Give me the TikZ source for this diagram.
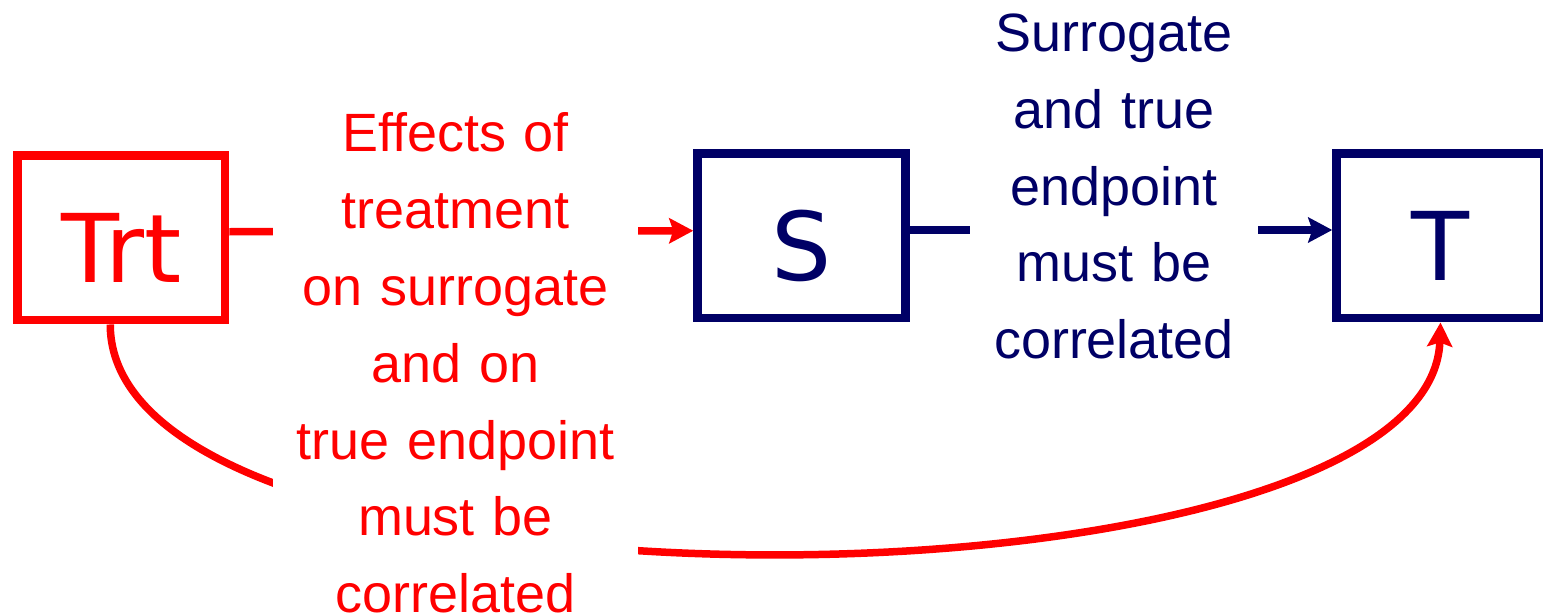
\documentclass[tikz,border=0pt]{standalone}
\usepackage{fontspec}
\setmainfont{Liberation Sans}
\newfontfamily\boxfont{DejaVu Sans}
\usetikzlibrary{arrows.meta}
\definecolor{trtred}{RGB}{255,0,0}
\definecolor{endnavy}{RGB}{0,0,102}

\begin{document}
\begin{tikzpicture}[x=0.02cm,y=-0.02cm,
    boxnode/.style={draw,line width=0.17cm,minimum width=4.16cm,minimum height=3.3cm,
      inner sep=0pt,font=\boxfont\fontsize{54pt}{60pt}\selectfont,
      text height=1.8cm,text depth=0pt},
    linkline/.style={line width=0.15cm},
    headarrow/.style={-{Stealth[length=0.48cm,width=0.5cm,inset=0.08cm]}},
    notenode/.style={fill=white,inner sep=0pt,align=center,anchor=north,
      font=\fontsize{30.7pt}{43.7pt}\selectfont}]
  \useasboundingbox (0,0) rectangle (1543,615);
  \node[boxnode,trtred] (trt) at (121.25,237.75) {Trt};
  \node[boxnode,endnavy] (surr) at (801.5,235.75) {S};
  \node[boxnode,endnavy] (trueep) at (1440.5,235.75) {T};
  \draw[linkline,headarrow,trtred] ([yshift=0.12cm]trt.east) -- ([yshift=0.1cm]surr.west);
  \draw[linkline,headarrow,endnavy] ([yshift=0.115cm]surr.east) -- ([yshift=0.115cm]trueep.west);
  \draw[linkline,headarrow,trtred] ([xshift=-0.22cm]trt.south)
    .. controls +(0,311) and +(-10,300) .. (trueep.south);
  \node[notenode,text=trtred,text width=7.3cm] (effects) at (455.5,112.6)
    {Effects of\\treatment\\on surrogate\\and on\\true endpoint\\must be\\correlated};
  \node[notenode,text=endnavy,text width=5.76cm] (corr) at (1114,13.6)
    {Surrogate\\and true\\endpoint\\must be\\correlated};
\end{tikzpicture}
\end{document}
